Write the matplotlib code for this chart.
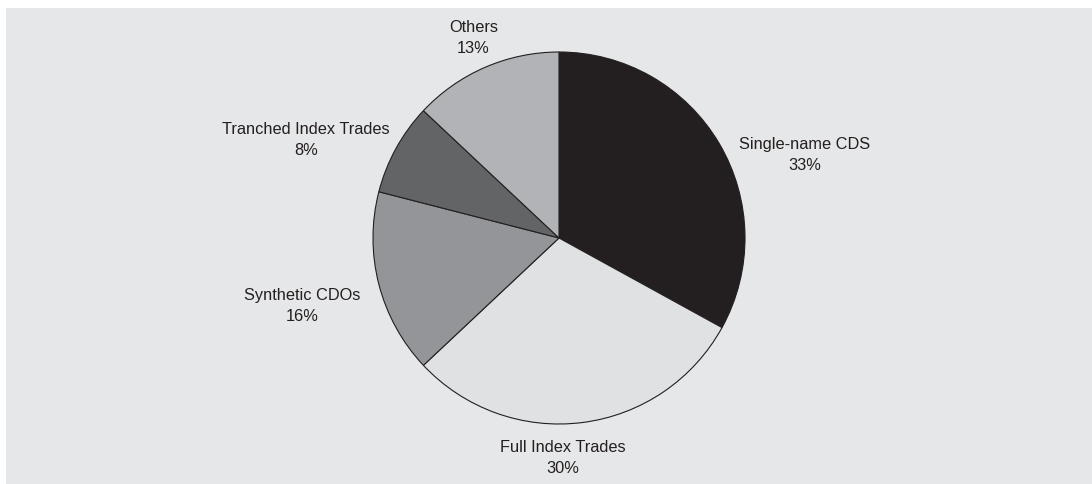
import matplotlib
matplotlib.use("Agg")
import matplotlib.pyplot as plt
from matplotlib.patches import Rectangle

# CDS market share by product
labels = ["Single-name CDS", "Full Index Trades", "Synthetic CDOs",
          "Tranched Index Trades", "Others"]
shares = [33, 30, 16, 8, 13]
colors = ["#231f20", "#e0e1e3", "#939598", "#636466", "#b1b3b6"]

# label anchors in pie-radius units (centre of the two-line label)
label_xy = [(1.32, 0.45), (0.02, -1.18), (-1.38, -0.36),
            (-1.36, 0.53), (-0.46, 1.08)]

INK = "#231f20"
BG = "#e6e7e8"
R_PX = 186          # pie radius in pixels
CX, CY = 559, 239   # pie centre, pixels from top-left
W, H = 1092, 485

plt.rcParams["font.family"] = ["Liberation Sans", "DejaVu Sans"]

fig = plt.figure(figsize=(W / 100, H / 100), dpi=100, facecolor="white")
fig.patches.append(Rectangle((6 / W, 0), 1 - 6 / W, 1 - 9 / H,
                             transform=fig.transFigure, facecolor=BG,
                             edgecolor="none", zorder=-1))
ax = fig.add_axes([0, 0, 1, 1])
ax.set_facecolor("none")
ax.axis("off")

ax.pie(shares, colors=colors, startangle=90, counterclock=False, radius=1,
       wedgeprops=dict(edgecolor=INK, linewidth=0.8))

for lab, val, (x, y) in zip(labels, shares, label_xy):
    ax.text(x, y, f"{lab}\n{val}%", ha="center", va="center", fontsize=11.8,
            color=INK, linespacing=1.5)

ax.set_xlim(-CX / R_PX, (W - CX) / R_PX)
ax.set_ylim(-(H - CY) / R_PX, CY / R_PX)
ax.set_aspect("auto")

fig.savefig("out.png", dpi=100, facecolor="white")
